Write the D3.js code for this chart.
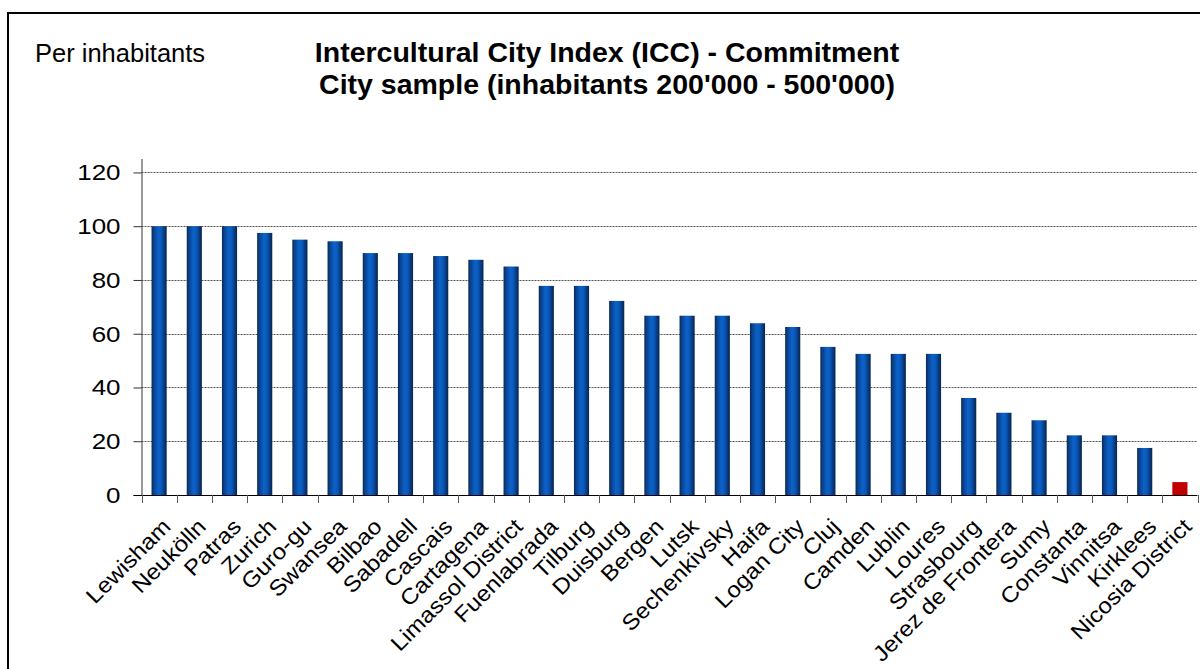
<!DOCTYPE html>
<html>
<head>
<meta charset="utf-8">
<script src="https://cdn.jsdelivr.net/npm/d3@7/dist/d3.min.js"></script>
<style>
  html, body { margin: 0; padding: 0; background: #fff; }
  svg { display: block; font-family: "Liberation Sans", Arial, sans-serif; }
</style>
</head>
<body>
<svg id="chart" width="1200" height="669"></svg>
<script>
// City names along the category axis
const categories = [
  "Lewisham", "Neukölln", "Patras", "Zurich", "Guro-gu", "Swansea", "Bilbao",
  "Sabadell", "Cascais", "Cartagena", "Limassol District", "Fuenlabrada",
  "Tilburg", "Duisburg", "Bergen", "Lutsk", "Sechenkivsky", "Haifa",
  "Logan City", "Cluj", "Camden", "Lublin", "Loures", "Strasbourg",
  "Jerez de Frontera", "Sumy", "Constanta", "Vinnitsa", "Kirklees",
  "Nicosia District"
];

// Commitment index per city
const values = [
  100, 100, 100, 97.5, 95, 94.4, 90,
  90, 88.9, 87.5, 85, 77.8,
  77.8, 72.2, 66.7, 66.7, 66.7, 63.9,
  62.5, 55.1, 52.5, 52.5, 52.5, 36.1,
  30.6, 27.8, 22.2, 22.2, 17.5,
  4.8
];

// The featured city is drawn in red
const highlighted = ["Nicosia District"];

const yTicks = [0, 20, 40, 60, 80, 100, 120];

const titleLines = [
  "Intercultural City Index (ICC) - Commitment",
  "City sample (inhabitants 200'000 - 500'000)"
];
const cornerLabel = "Per inhabitants";

const data = categories.map((c, i) => ({ city: c, value: values[i] }));

const svg = d3.select("#chart");

// Outer frame of the chart object
svg.append("rect")
  .attr("x", 8).attr("y", 13)
  .attr("width", 1220).attr("height", 700)
  .attr("fill", "#fff")
  .attr("stroke", "#000")
  .attr("stroke-width", 2);

// Bar fill: cylinder-like shading across each column
const defs = svg.append("defs");
const grad = defs.append("linearGradient")
  .attr("id", "barShade")
  .attr("x1", "0%").attr("x2", "100%")
  .attr("y1", "0%").attr("y2", "0%");
[
  ["0%", "#082a5a"],
  ["18%", "#0c4591"],
  ["45%", "#0b62cc"],
  ["65%", "#0a58b8"],
  ["85%", "#08397a"],
  ["100%", "#062450"]
].forEach(([o, c]) => grad.append("stop").attr("offset", o).attr("stop-color", c));

const plotLeft = 141.5, plotRight = 1197.5, plotTop = 159, plotBottom = 495;

const x = d3.scaleBand()
  .domain(categories)
  .range([plotLeft, plotRight])
  .paddingInner(0.57)
  .paddingOuter(0.285);

const xEdges = d3.scaleBand()
  .domain(categories)
  .range([plotLeft, plotRight])
  .padding(0);

const y = d3.scaleLinear()
  .domain([0, 125])
  .range([plotBottom, plotTop]);

// Horizontal dotted gridlines
svg.append("g")
  .selectAll("line")
  .data(yTicks.filter(t => t > 0))
  .join("line")
  .attr("x1", plotLeft).attr("x2", plotRight)
  .attr("y1", d => Math.round(y(d)) + 0.5)
  .attr("y2", d => Math.round(y(d)) + 0.5)
  .attr("stroke", "#555")
  .attr("stroke-width", 1)
  .attr("stroke-dasharray", "2,1");

// Bars
svg.append("g")
  .selectAll("rect")
  .data(data)
  .join("rect")
  .attr("x", d => x(d.city))
  .attr("width", x.bandwidth())
  .attr("y", d => y(d.value))
  .attr("height", d => y(0) - y(d.value))
  .attr("fill", d => highlighted.includes(d.city) ? "#c00000" : "url(#barShade)");

// Value axis
const yAxis = d3.axisLeft(y)
  .tickValues(yTicks)
  .tickSize(8)
  .tickPadding(0)
  .tickFormat(d3.format("d"));

const yg = svg.append("g")
  .attr("transform", `translate(${plotLeft},0)`)
  .call(yAxis);
yg.select(".domain")
  .attr("d", `M0.5,${plotTop}V${plotBottom}`)
  .attr("stroke", "#333");
yg.selectAll(".tick line").attr("stroke", "#333");
// labels are set slightly wide, as in the chart's original typography
yg.selectAll(".tick text")
  .attr("x", null)
  .attr("dy", "0.34em")
  .attr("transform", "translate(-21,0) scale(1.18,1)")
  .attr("font-size", 22)
  .attr("fill", "#000")
  .style("font-family", "'Liberation Sans', Arial, sans-serif");

// Category axis: ticks on band edges
const xg = svg.append("g");
xg.append("line")
  .attr("x1", plotLeft - 8).attr("x2", plotRight)
  .attr("y1", plotBottom + 0.5).attr("y2", plotBottom + 0.5)
  .attr("stroke", "#000");
xg.selectAll("line.edge")
  .data(categories.concat(["__end"]))
  .join("line")
  .attr("class", "edge")
  .attr("x1", (d, i) => Math.round(i < categories.length ? xEdges(d) : plotRight) + 0.5)
  .attr("x2", (d, i) => Math.round(i < categories.length ? xEdges(d) : plotRight) + 0.5)
  .attr("y1", plotBottom)
  .attr("y2", plotBottom + 8)
  .attr("stroke", "#555");

// Rotated city labels
xg.selectAll("text")
  .data(categories)
  .join("text")
  .attr("transform", d => `translate(${x(d) + x.bandwidth() / 2 + 13},${plotBottom + 33}) rotate(-45) scale(1.1,1)`)
  .attr("text-anchor", "end")
  .attr("font-size", 22)
  .attr("fill", "#000")
  .text(d => d);

// Titles
const titleX = 607;
svg.append("text")
  .attr("x", titleX).attr("y", 61.5)
  .attr("text-anchor", "middle")
  .attr("font-size", 28.5)
  .attr("font-weight", "bold")
  .text(titleLines[0]);
svg.append("text")
  .attr("x", titleX).attr("y", 94)
  .attr("text-anchor", "middle")
  .attr("font-size", 28.5)
  .attr("font-weight", "bold")
  .text(titleLines[1]);

svg.append("text")
  .attr("x", 35).attr("y", 61.5)
  .attr("font-size", 25.5)
  .text(cornerLabel);
</script>
</body>
</html>
